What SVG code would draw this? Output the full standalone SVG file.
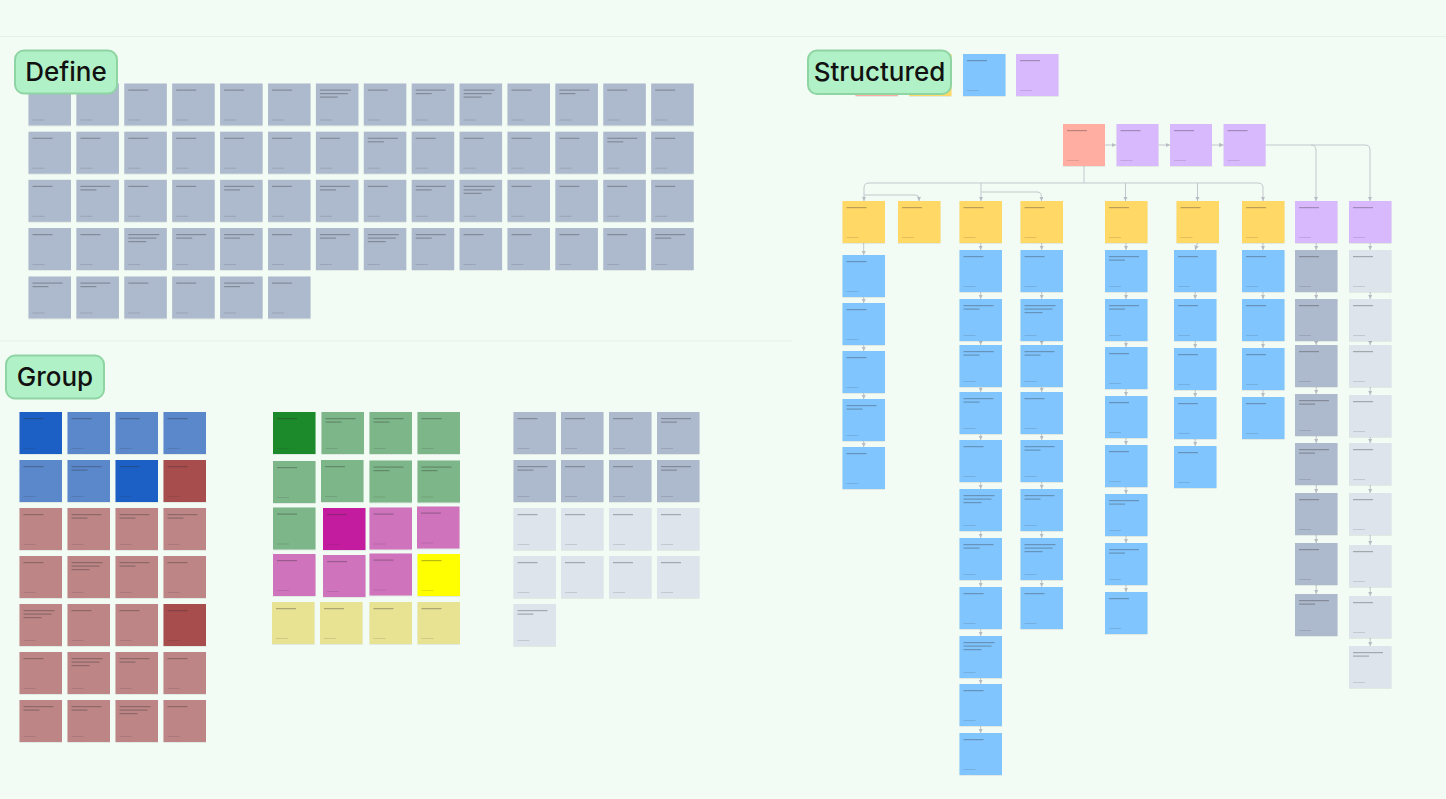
<svg xmlns="http://www.w3.org/2000/svg" xmlns:xlink="http://www.w3.org/1999/xlink" width="1446" height="799" viewBox="0 0 1446 799">
<style>
.n{filter:url(#sh)}
.gb{fill:#adb9cd}.lt{fill:#dde4ec}.bl{fill:#80c5fe}.ye{fill:#ffd866}.pu{fill:#d9b9fe}.sa{fill:#ffaea1}
.db{fill:#1f5fc5}.mb{fill:#5a88cb}.dr{fill:#a84d4d}.lr{fill:#bd8585}.dg{fill:#1a8a2c}.mg{fill:#7db688}
.mag{fill:#c41f9f}.pk{fill:#cf73bd}.yy{fill:#ffff00}.py{fill:#e8e293}
.lab{fill:#b1f1c7;stroke:#8fd4a3;stroke-width:2}
.lt2{font-family:Inter,"Liberation Sans",sans-serif;font-size:26px;font-weight:500;fill:#111;text-anchor:middle}
.c path{fill:none;stroke:#c3c7cc;stroke-width:1;marker-end:url(#ar)}
.bar{fill:#2a2a2a;opacity:.32}.ft{fill:#2a2a2a;opacity:.14}
</style>
<defs>
<filter id="sh" x="-10%" y="-10%" width="130%" height="130%"><feDropShadow dx="0" dy="0.6" stdDeviation="0.7" flood-color="#000" flood-opacity="0.12"/></filter>
<marker id="ar" viewBox="0 0 6 6" refX="6" refY="3" markerWidth="4.5" markerHeight="4.5" orient="auto"><path d="M0 0L6 3L0 6z" fill="#b8bcc2"/></marker>
<g id="t1"><rect class="bar" x="4" y="6" width="20" height="1.2"/><rect class="ft" x="4" y="36" width="12" height="1"/></g>
<g id="t2"><rect class="bar" x="4" y="6" width="30" height="1.2"/><rect class="bar" x="4" y="9.5" width="16" height="1.2"/><rect class="ft" x="4" y="36" width="12" height="1"/></g>
<g id="t3"><rect class="bar" x="4" y="6" width="31" height="1.2"/><rect class="bar" x="4" y="9.5" width="28" height="1.2"/><rect class="bar" x="4" y="13" width="18" height="1.2"/><rect class="ft" x="4" y="36" width="12" height="1"/></g>
</defs>
<rect width="1446" height="799" fill="#f2fcf4"/>
<path d="M0 36.5H1446M0 341H793" stroke="#e4f3e7" stroke-width="1" fill="none"/>

<!-- DEFINE -->
<g id="define-notes">
<g id="d1-1" transform="translate(28.5,83.5)"><rect class="n gb" width="42.5" height="42"/><use href="#t1"/></g>
<g id="d1-2" transform="translate(76.4,83.5)"><rect class="n gb" width="42.5" height="42"/><use href="#t1"/></g>
<g id="d1-3" transform="translate(124.3,83.5)"><rect class="n gb" width="42.5" height="42"/><use href="#t1"/></g>
<g id="d1-4" transform="translate(172.2,83.5)"><rect class="n gb" width="42.5" height="42"/><use href="#t1"/></g>
<g id="d1-5" transform="translate(220.1,83.5)"><rect class="n gb" width="42.5" height="42"/><use href="#t1"/></g>
<g id="d1-6" transform="translate(268,83.5)"><rect class="n gb" width="42.5" height="42"/><use href="#t1"/></g>
<g id="d1-7" transform="translate(315.9,83.5)"><rect class="n gb" width="42.5" height="42"/><use href="#t3"/></g>
<g id="d1-8" transform="translate(363.8,83.5)"><rect class="n gb" width="42.5" height="42"/><use href="#t1"/></g>
<g id="d1-9" transform="translate(411.7,83.5)"><rect class="n gb" width="42.5" height="42"/><use href="#t2"/></g>
<g id="d1-10" transform="translate(459.6,83.5)"><rect class="n gb" width="42.5" height="42"/><use href="#t3"/></g>
<g id="d1-11" transform="translate(507.5,83.5)"><rect class="n gb" width="42.5" height="42"/><use href="#t1"/></g>
<g id="d1-12" transform="translate(555.4,83.5)"><rect class="n gb" width="42.5" height="42"/><use href="#t2"/></g>
<g id="d1-13" transform="translate(603.3,83.5)"><rect class="n gb" width="42.5" height="42"/><use href="#t1"/></g>
<g id="d1-14" transform="translate(651.2,83.5)"><rect class="n gb" width="42.5" height="42"/><use href="#t1"/></g>

<g id="d2-1" transform="translate(28.5,131.7)"><rect class="n gb" width="42.5" height="42"/><use href="#t1"/></g>
<g id="d2-2" transform="translate(76.4,131.7)"><rect class="n gb" width="42.5" height="42"/><use href="#t1"/></g>
<g id="d2-3" transform="translate(124.3,131.7)"><rect class="n gb" width="42.5" height="42"/><use href="#t1"/></g>
<g id="d2-4" transform="translate(172.2,131.7)"><rect class="n gb" width="42.5" height="42"/><use href="#t1"/></g>
<g id="d2-5" transform="translate(220.1,131.7)"><rect class="n gb" width="42.5" height="42"/><use href="#t1"/></g>
<g id="d2-6" transform="translate(268,131.7)"><rect class="n gb" width="42.5" height="42"/><use href="#t1"/></g>
<g id="d2-7" transform="translate(315.9,131.7)"><rect class="n gb" width="42.5" height="42"/><use href="#t1"/></g>
<g id="d2-8" transform="translate(363.8,131.7)"><rect class="n gb" width="42.5" height="42"/><use href="#t2"/></g>
<g id="d2-9" transform="translate(411.7,131.7)"><rect class="n gb" width="42.5" height="42"/><use href="#t1"/></g>
<g id="d2-10" transform="translate(459.6,131.7)"><rect class="n gb" width="42.5" height="42"/><use href="#t1"/></g>
<g id="d2-11" transform="translate(507.5,131.7)"><rect class="n gb" width="42.5" height="42"/><use href="#t1"/></g>
<g id="d2-12" transform="translate(555.4,131.7)"><rect class="n gb" width="42.5" height="42"/><use href="#t1"/></g>
<g id="d2-13" transform="translate(603.3,131.7)"><rect class="n gb" width="42.5" height="42"/><use href="#t2"/></g>
<g id="d2-14" transform="translate(651.2,131.7)"><rect class="n gb" width="42.5" height="42"/><use href="#t1"/></g>

<g id="d3-1" transform="translate(28.5,179.8)"><rect class="n gb" width="42.5" height="42"/><use href="#t1"/></g>
<g id="d3-2" transform="translate(76.4,179.8)"><rect class="n gb" width="42.5" height="42"/><use href="#t2"/></g>
<g id="d3-3" transform="translate(124.3,179.8)"><rect class="n gb" width="42.5" height="42"/><use href="#t1"/></g>
<g id="d3-4" transform="translate(172.2,179.8)"><rect class="n gb" width="42.5" height="42"/><use href="#t1"/></g>
<g id="d3-5" transform="translate(220.1,179.8)"><rect class="n gb" width="42.5" height="42"/><use href="#t2"/></g>
<g id="d3-6" transform="translate(268,179.8)"><rect class="n gb" width="42.5" height="42"/><use href="#t1"/></g>
<g id="d3-7" transform="translate(315.9,179.8)"><rect class="n gb" width="42.5" height="42"/><use href="#t2"/></g>
<g id="d3-8" transform="translate(363.8,179.8)"><rect class="n gb" width="42.5" height="42"/><use href="#t1"/></g>
<g id="d3-9" transform="translate(411.7,179.8)"><rect class="n gb" width="42.5" height="42"/><use href="#t2"/></g>
<g id="d3-10" transform="translate(459.6,179.8)"><rect class="n gb" width="42.5" height="42"/><use href="#t3"/></g>
<g id="d3-11" transform="translate(507.5,179.8)"><rect class="n gb" width="42.5" height="42"/><use href="#t1"/></g>
<g id="d3-12" transform="translate(555.4,179.8)"><rect class="n gb" width="42.5" height="42"/><use href="#t1"/></g>
<g id="d3-13" transform="translate(603.3,179.8)"><rect class="n gb" width="42.5" height="42"/><use href="#t1"/></g>
<g id="d3-14" transform="translate(651.2,179.8)"><rect class="n gb" width="42.5" height="42"/><use href="#t1"/></g>

<g id="d4-1" transform="translate(28.5,228)"><rect class="n gb" width="42.5" height="42"/><use href="#t1"/></g>
<g id="d4-2" transform="translate(76.4,228)"><rect class="n gb" width="42.5" height="42"/><use href="#t1"/></g>
<g id="d4-3" transform="translate(124.3,228)"><rect class="n gb" width="42.5" height="42"/><use href="#t3"/></g>
<g id="d4-4" transform="translate(172.2,228)"><rect class="n gb" width="42.5" height="42"/><use href="#t2"/></g>
<g id="d4-5" transform="translate(220.1,228)"><rect class="n gb" width="42.5" height="42"/><use href="#t2"/></g>
<g id="d4-6" transform="translate(268,228)"><rect class="n gb" width="42.5" height="42"/><use href="#t1"/></g>
<g id="d4-7" transform="translate(315.9,228)"><rect class="n gb" width="42.5" height="42"/><use href="#t2"/></g>
<g id="d4-8" transform="translate(363.8,228)"><rect class="n gb" width="42.5" height="42"/><use href="#t3"/></g>
<g id="d4-9" transform="translate(411.7,228)"><rect class="n gb" width="42.5" height="42"/><use href="#t2"/></g>
<g id="d4-10" transform="translate(459.6,228)"><rect class="n gb" width="42.5" height="42"/><use href="#t1"/></g>
<g id="d4-11" transform="translate(507.5,228)"><rect class="n gb" width="42.5" height="42"/><use href="#t1"/></g>
<g id="d4-12" transform="translate(555.4,228)"><rect class="n gb" width="42.5" height="42"/><use href="#t1"/></g>
<g id="d4-13" transform="translate(603.3,228)"><rect class="n gb" width="42.5" height="42"/><use href="#t1"/></g>
<g id="d4-14" transform="translate(651.2,228)"><rect class="n gb" width="42.5" height="42"/><use href="#t2"/></g>

<g id="d5-1" transform="translate(28.5,276.5)"><rect class="n gb" width="42.5" height="42"/><use href="#t2"/></g>
<g id="d5-2" transform="translate(76.4,276.5)"><rect class="n gb" width="42.5" height="42"/><use href="#t2"/></g>
<g id="d5-3" transform="translate(124.3,276.5)"><rect class="n gb" width="42.5" height="42"/><use href="#t1"/></g>
<g id="d5-4" transform="translate(172.2,276.5)"><rect class="n gb" width="42.5" height="42"/><use href="#t1"/></g>
<g id="d5-5" transform="translate(220.1,276.5)"><rect class="n gb" width="42.5" height="42"/><use href="#t2"/></g>
<g id="d5-6" transform="translate(268,276.5)"><rect class="n gb" width="42.5" height="42"/><use href="#t1"/></g>
</g>
<g id="label-define"><rect class="lab" x="15" y="50.5" width="102" height="43" rx="9"/><text class="lt2" x="66" y="81">Define</text></g>

<!-- GROUP -->
<g id="group-left">
<g id="gl1-1" transform="translate(19.5,412)"><rect class="n db" width="42.5" height="42"/><use href="#t1"/></g>
<g id="gl1-2" transform="translate(67.5,412)"><rect class="n mb" width="42.5" height="42"/><use href="#t1"/></g>
<g id="gl1-3" transform="translate(115.5,412)"><rect class="n mb" width="42.5" height="42"/><use href="#t1"/></g>
<g id="gl1-4" transform="translate(163.5,412)"><rect class="n mb" width="42.5" height="42"/><use href="#t1"/></g>
<g id="gl2-1" transform="translate(19.5,460)"><rect class="n mb" width="42.5" height="42"/><use href="#t1"/></g>
<g id="gl2-2" transform="translate(67.5,460)"><rect class="n mb" width="42.5" height="42"/><use href="#t2"/></g>
<g id="gl2-3" transform="translate(115.5,460)"><rect class="n db" width="42.5" height="42"/><use href="#t1"/></g>
<g id="gl2-4" transform="translate(163.5,460)"><rect class="n dr" width="42.5" height="42"/><use href="#t1"/></g>
<g id="gl3-1" transform="translate(19.5,508)"><rect class="n lr" width="42.5" height="42"/><use href="#t1"/></g>
<g id="gl3-2" transform="translate(67.5,508)"><rect class="n lr" width="42.5" height="42"/><use href="#t2"/></g>
<g id="gl3-3" transform="translate(115.5,508)"><rect class="n lr" width="42.5" height="42"/><use href="#t2"/></g>
<g id="gl3-4" transform="translate(163.5,508)"><rect class="n lr" width="42.5" height="42"/><use href="#t2"/></g>
<g id="gl4-1" transform="translate(19.5,556)"><rect class="n lr" width="42.5" height="42"/><use href="#t1"/></g>
<g id="gl4-2" transform="translate(67.5,556)"><rect class="n lr" width="42.5" height="42"/><use href="#t3"/></g>
<g id="gl4-3" transform="translate(115.5,556)"><rect class="n lr" width="42.5" height="42"/><use href="#t2"/></g>
<g id="gl4-4" transform="translate(163.5,556)"><rect class="n lr" width="42.5" height="42"/><use href="#t1"/></g>
<g id="gl5-1" transform="translate(19.5,604)"><rect class="n lr" width="42.5" height="42"/><use href="#t3"/></g>
<g id="gl5-2" transform="translate(67.5,604)"><rect class="n lr" width="42.5" height="42"/><use href="#t1"/></g>
<g id="gl5-3" transform="translate(115.5,604)"><rect class="n lr" width="42.5" height="42"/><use href="#t1"/></g>
<g id="gl5-4" transform="translate(163.5,604)"><rect class="n dr" width="42.5" height="42"/><use href="#t1"/></g>
<g id="gl6-1" transform="translate(19.5,652)"><rect class="n lr" width="42.5" height="42"/><use href="#t1"/></g>
<g id="gl6-2" transform="translate(67.5,652)"><rect class="n lr" width="42.5" height="42"/><use href="#t3"/></g>
<g id="gl6-3" transform="translate(115.5,652)"><rect class="n lr" width="42.5" height="42"/><use href="#t2"/></g>
<g id="gl6-4" transform="translate(163.5,652)"><rect class="n lr" width="42.5" height="42"/><use href="#t1"/></g>
<g id="gl7-1" transform="translate(19.5,700)"><rect class="n lr" width="42.5" height="42"/><use href="#t2"/></g>
<g id="gl7-2" transform="translate(67.5,700)"><rect class="n lr" width="42.5" height="42"/><use href="#t2"/></g>
<g id="gl7-3" transform="translate(115.5,700)"><rect class="n lr" width="42.5" height="42"/><use href="#t3"/></g>
<g id="gl7-4" transform="translate(163.5,700)"><rect class="n lr" width="42.5" height="42"/><use href="#t1"/></g>
</g>

<g id="group-middle">
<g id="gm1-1" transform="translate(273,412)"><rect class="n dg" width="42.5" height="42"/><use href="#t1"/></g>
<g id="gm1-2" transform="translate(321.5,412)"><rect class="n mg" width="42.5" height="42"/><use href="#t2"/></g>
<g id="gm1-3" transform="translate(369.5,412)"><rect class="n mg" width="42.5" height="42"/><use href="#t2"/></g>
<g id="gm1-4" transform="translate(417.5,412)"><rect class="n mg" width="42.5" height="42"/><use href="#t1"/></g>
<g id="gm2-1" transform="translate(273,461)"><rect class="n mg" width="42.5" height="42"/><use href="#t1"/></g>
<g id="gm2-2" transform="translate(321,460)"><rect class="n mg" width="42.5" height="42"/><use href="#t1"/></g>
<g id="gm2-3" transform="translate(369.5,460.5)"><rect class="n mg" width="42.5" height="42"/><use href="#t2"/></g>
<g id="gm2-4" transform="translate(417.5,460.5)"><rect class="n mg" width="42.5" height="42"/><use href="#t2"/></g>
<g id="gm3-1" transform="translate(273,507.5)"><rect class="n mg" width="42.5" height="42"/><use href="#t1"/></g>
<g id="gm3-2" transform="translate(323,508)"><rect class="n mag" width="42.5" height="42"/><use href="#t1"/></g>
<g id="gm3-3" transform="translate(369.5,507.5)"><rect class="n pk" width="42.5" height="42"/><use href="#t1"/></g>
<g id="gm3-4" transform="translate(417,506.5)"><rect class="n pk" width="42.5" height="42"/><use href="#t1"/></g>
<g id="gm4-1" transform="translate(273,554)"><rect class="n pk" width="42.5" height="42"/><use href="#t1"/></g>
<g id="gm4-2" transform="translate(323,555)"><rect class="n pk" width="42.5" height="42"/><use href="#t1"/></g>
<g id="gm4-3" transform="translate(369.5,553.5)"><rect class="n pk" width="42.5" height="42"/><use href="#t1"/></g>
<g id="gm4-4" transform="translate(417.5,554)"><rect class="n yy" width="42.5" height="42"/><use href="#t1"/></g>
<g id="gm5-1" transform="translate(272,602)"><rect class="n py" width="42.5" height="42"/><use href="#t1"/></g>
<g id="gm5-2" transform="translate(320,602)"><rect class="n py" width="42.5" height="42"/><use href="#t1"/></g>
<g id="gm5-3" transform="translate(369.5,602)"><rect class="n py" width="42.5" height="42"/><use href="#t1"/></g>
<g id="gm5-4" transform="translate(417.5,602)"><rect class="n py" width="42.5" height="42"/><use href="#t1"/></g>
</g>

<g id="group-right">
<g id="gr1-1" transform="translate(513.5,412)"><rect class="n gb" width="42.5" height="42"/><use href="#t1"/></g>
<g id="gr1-2" transform="translate(561,412)"><rect class="n gb" width="42.5" height="42"/><use href="#t1"/></g>
<g id="gr1-3" transform="translate(609,412)"><rect class="n gb" width="42.5" height="42"/><use href="#t1"/></g>
<g id="gr1-4" transform="translate(657,412)"><rect class="n gb" width="42.5" height="42"/><use href="#t2"/></g>
<g id="gr2-1" transform="translate(513.5,460)"><rect class="n gb" width="42.5" height="42"/><use href="#t2"/></g>
<g id="gr2-2" transform="translate(561,460)"><rect class="n gb" width="42.5" height="42"/><use href="#t1"/></g>
<g id="gr2-3" transform="translate(609,460)"><rect class="n gb" width="42.5" height="42"/><use href="#t1"/></g>
<g id="gr2-4" transform="translate(657,460)"><rect class="n gb" width="42.5" height="42"/><use href="#t2"/></g>
<g id="gr3-1" transform="translate(513.5,508)"><rect class="n lt" width="42.5" height="42"/><use href="#t1"/></g>
<g id="gr3-2" transform="translate(561,508)"><rect class="n lt" width="42.5" height="42"/><use href="#t1"/></g>
<g id="gr3-3" transform="translate(609,508)"><rect class="n lt" width="42.5" height="42"/><use href="#t1"/></g>
<g id="gr3-4" transform="translate(657,508)"><rect class="n lt" width="42.5" height="42"/><use href="#t1"/></g>
<g id="gr4-1" transform="translate(513.5,556)"><rect class="n lt" width="42.5" height="42"/><use href="#t1"/></g>
<g id="gr4-2" transform="translate(561,556)"><rect class="n lt" width="42.5" height="42"/><use href="#t1"/></g>
<g id="gr4-3" transform="translate(609,556)"><rect class="n lt" width="42.5" height="42"/><use href="#t1"/></g>
<g id="gr4-4" transform="translate(657,556)"><rect class="n lt" width="42.5" height="42"/><use href="#t1"/></g>
<g id="gr5-1" transform="translate(513.5,604)"><rect class="n lt" width="42.5" height="42"/><use href="#t2"/></g>
</g>
<g id="label-group"><rect class="lab" x="6" y="355.5" width="98" height="43" rx="9"/><text class="lt2" x="55" y="386">Group</text></g>

<!-- STRUCTURED -->
<g id="legend">
<g id="lg-salmon" transform="translate(855.5,54)"><rect class="n sa" width="42.5" height="42"/></g>
<g id="lg-yellow" transform="translate(909,54)"><rect class="n ye" width="42.5" height="42"/></g>
<g id="lg-blue" transform="translate(963,54)"><rect class="n bl" width="42.5" height="42"/><use href="#t1"/></g>
<g id="lg-purple" transform="translate(1016,54)"><rect class="n pu" width="42.5" height="42"/><use href="#t1"/></g>
</g>
<g id="label-structured"><rect class="lab" x="808" y="50.5" width="143" height="43.5" rx="9"/><text class="lt2" x="879.5" y="81">Structured</text></g>

<g id="connectors" class="c">
<path d="M1105 145H1116"/><path d="M1158.5 145H1170"/><path d="M1212 145H1223.6"/>
<path d="M1265.6 145H1365q5 0 5 5V201"/><path d="M1311 145q5 0 5 5V201"/>
<path d="M1084 166V183" style="marker-end:none"/>
<path d="M869 183H1258q5 0 5 5V201"/><path d="M869 183q-5 0 -5 5V201"/>
<path d="M981 183V201"/><path d="M1125.5 183V201"/><path d="M1197.5 183V201"/>
<path d="M864 195H915q4 0 4 4V201"/><path d="M981 192H1037q4.5 0 4.5 4.5V201"/>
<path d="M863.7 243V255"/><path d="M863.7 297V303"/><path d="M863.7 345V351"/><path d="M863.7 393V399"/><path d="M863.7 441V447"/>
<path d="M980.7 243V250"/><path d="M980.7 292V299"/><path d="M980.7 341V345"/><path d="M980.7 387V392"/><path d="M980.7 434V440"/><path d="M980.7 482V489"/><path d="M980.7 531V538"/><path d="M980.7 580V587"/><path d="M980.7 629V636"/><path d="M980.7 678V684"/><path d="M980.7 726V733"/>
<path d="M1041.7 243V250"/><path d="M1041.7 292V299"/><path d="M1041.7 341V345"/><path d="M1041.7 387V392"/><path d="M1041.7 434V440"/><path d="M1041.7 482V489"/><path d="M1041.7 531V538"/><path d="M1041.7 580V587"/>
<path d="M1126 243V250"/><path d="M1126 292V299"/><path d="M1126 341V347"/><path d="M1126 389V396"/><path d="M1126 438V445"/><path d="M1126 487V494"/><path d="M1126 536V543"/><path d="M1126 585V592"/>
<path d="M1197.5 243L1195.2 250"/><path d="M1195.2 292V299"/><path d="M1195.2 341V348"/><path d="M1195.2 390V397"/><path d="M1195.2 439V446"/>
<path d="M1263 243V250"/><path d="M1263 292V299"/><path d="M1263 341V348"/><path d="M1263 390V397"/>
<path d="M1316.2 243V250"/><path d="M1316.2 292V299"/><path d="M1316.2 341V345"/><path d="M1316.2 387V394"/><path d="M1316.2 436V443"/><path d="M1316.2 485V493"/><path d="M1316.2 535V543"/><path d="M1316.2 585V594"/>
<path d="M1370.2 243V250"/><path d="M1370.2 292V299"/><path d="M1370.2 341V345"/><path d="M1370.2 387V395"/><path d="M1370.2 437V443"/><path d="M1370.2 485V493"/><path d="M1370.2 535V545"/><path d="M1370.2 587V596"/><path d="M1370.2 638V646"/>
</g>

<g id="chain">
<g id="s-root" transform="translate(1063,124)"><rect class="n sa" width="42" height="42"/><use href="#t1"/></g>
<g id="s-p1" transform="translate(1116.5,124)"><rect class="n pu" width="42" height="42"/><use href="#t1"/></g>
<g id="s-p2" transform="translate(1170,124)"><rect class="n pu" width="42" height="42"/><use href="#t1"/></g>
<g id="s-p3" transform="translate(1223.6,124)"><rect class="n pu" width="42" height="42"/><use href="#t1"/></g>
</g>

<g id="heads">
<g id="h1" transform="translate(842.5,201)"><rect class="n ye" width="42.5" height="42"/><use href="#t1"/></g>
<g id="h2" transform="translate(898,201)"><rect class="n ye" width="42.5" height="42"/><use href="#t1"/></g>
<g id="h3" transform="translate(959.5,201)"><rect class="n ye" width="42.5" height="42"/><use href="#t1"/></g>
<g id="h4" transform="translate(1020.5,201)"><rect class="n ye" width="42.5" height="42"/><use href="#t1"/></g>
<g id="h5" transform="translate(1105,201)"><rect class="n ye" width="42.5" height="42"/><use href="#t1"/></g>
<g id="h6" transform="translate(1176.5,201)"><rect class="n ye" width="42.5" height="42"/><use href="#t1"/></g>
<g id="h7" transform="translate(1242,201)"><rect class="n ye" width="42.5" height="42"/><use href="#t1"/></g>
<g id="h8" transform="translate(1295,201)"><rect class="n pu" width="42.5" height="42"/><use href="#t1"/></g>
<g id="h9" transform="translate(1349,201)"><rect class="n pu" width="42.5" height="42"/><use href="#t1"/></g>
</g>

<g id="col1">
<g id="c1-1" transform="translate(842.5,255)"><rect class="n bl" width="42.5" height="42"/><use href="#t1"/></g>
<g id="c1-2" transform="translate(842.5,303)"><rect class="n bl" width="42.5" height="42"/><use href="#t1"/></g>
<g id="c1-3" transform="translate(842.5,351)"><rect class="n bl" width="42.5" height="42"/><use href="#t1"/></g>
<g id="c1-4" transform="translate(842.5,399)"><rect class="n bl" width="42.5" height="42"/><use href="#t2"/></g>
<g id="c1-5" transform="translate(842.5,447)"><rect class="n bl" width="42.5" height="42"/><use href="#t1"/></g>
</g>
<g id="col3">
<g id="c3-1" transform="translate(959.5,250)"><rect class="n bl" width="42.5" height="42"/><use href="#t1"/></g>
<g id="c3-2" transform="translate(959.5,299)"><rect class="n bl" width="42.5" height="42"/><use href="#t2"/></g>
<g id="c3-3" transform="translate(959.5,345)"><rect class="n bl" width="42.5" height="42"/><use href="#t2"/></g>
<g id="c3-4" transform="translate(959.5,392)"><rect class="n bl" width="42.5" height="42"/><use href="#t2"/></g>
<g id="c3-5" transform="translate(959.5,440)"><rect class="n bl" width="42.5" height="42"/><use href="#t1"/></g>
<g id="c3-6" transform="translate(959.5,489)"><rect class="n bl" width="42.5" height="42"/><use href="#t3"/></g>
<g id="c3-7" transform="translate(959.5,538)"><rect class="n bl" width="42.5" height="42"/><use href="#t2"/></g>
<g id="c3-8" transform="translate(959.5,587)"><rect class="n bl" width="42.5" height="42"/><use href="#t1"/></g>
<g id="c3-9" transform="translate(959.5,636)"><rect class="n bl" width="42.5" height="42"/><use href="#t3"/></g>
<g id="c3-10" transform="translate(959.5,684)"><rect class="n bl" width="42.5" height="42"/><use href="#t1"/></g>
<g id="c3-11" transform="translate(959.5,733)"><rect class="n bl" width="42.5" height="42"/><use href="#t1"/></g>
</g>
<g id="col4">
<g id="c4-1" transform="translate(1020.5,250)"><rect class="n bl" width="42.5" height="42"/><use href="#t1"/></g>
<g id="c4-2" transform="translate(1020.5,299)"><rect class="n bl" width="42.5" height="42"/><use href="#t3"/></g>
<g id="c4-3" transform="translate(1020.5,345)"><rect class="n bl" width="42.5" height="42"/><use href="#t2"/></g>
<g id="c4-4" transform="translate(1020.5,392)"><rect class="n bl" width="42.5" height="42"/><use href="#t1"/></g>
<g id="c4-5" transform="translate(1020.5,440)"><rect class="n bl" width="42.5" height="42"/><use href="#t2"/></g>
<g id="c4-6" transform="translate(1020.5,489)"><rect class="n bl" width="42.5" height="42"/><use href="#t2"/></g>
<g id="c4-7" transform="translate(1020.5,538)"><rect class="n bl" width="42.5" height="42"/><use href="#t3"/></g>
<g id="c4-8" transform="translate(1020.5,587)"><rect class="n bl" width="42.5" height="42"/><use href="#t1"/></g>
</g>
<g id="col5">
<g id="c5-1" transform="translate(1105,250)"><rect class="n bl" width="42.5" height="42"/><use href="#t2"/></g>
<g id="c5-2" transform="translate(1105,299)"><rect class="n bl" width="42.5" height="42"/><use href="#t2"/></g>
<g id="c5-3" transform="translate(1105,347)"><rect class="n bl" width="42.5" height="42"/><use href="#t1"/></g>
<g id="c5-4" transform="translate(1105,396)"><rect class="n bl" width="42.5" height="42"/><use href="#t1"/></g>
<g id="c5-5" transform="translate(1105,445)"><rect class="n bl" width="42.5" height="42"/><use href="#t1"/></g>
<g id="c5-6" transform="translate(1105,494)"><rect class="n bl" width="42.5" height="42"/><use href="#t2"/></g>
<g id="c5-7" transform="translate(1105,543)"><rect class="n bl" width="42.5" height="42"/><use href="#t2"/></g>
<g id="c5-8" transform="translate(1105,592)"><rect class="n bl" width="42.5" height="42"/><use href="#t1"/></g>
</g>
<g id="col6">
<g id="c6-1" transform="translate(1174,250)"><rect class="n bl" width="42.5" height="42"/><use href="#t1"/></g>
<g id="c6-2" transform="translate(1174,299)"><rect class="n bl" width="42.5" height="42"/><use href="#t1"/></g>
<g id="c6-3" transform="translate(1174,348)"><rect class="n bl" width="42.5" height="42"/><use href="#t1"/></g>
<g id="c6-4" transform="translate(1174,397)"><rect class="n bl" width="42.5" height="42"/><use href="#t1"/></g>
<g id="c6-5" transform="translate(1174,446)"><rect class="n bl" width="42.5" height="42"/><use href="#t1"/></g>
</g>
<g id="col7">
<g id="c7-1" transform="translate(1242,250)"><rect class="n bl" width="42.5" height="42"/><use href="#t1"/></g>
<g id="c7-2" transform="translate(1242,299)"><rect class="n bl" width="42.5" height="42"/><use href="#t1"/></g>
<g id="c7-3" transform="translate(1242,348)"><rect class="n bl" width="42.5" height="42"/><use href="#t1"/></g>
<g id="c7-4" transform="translate(1242,397)"><rect class="n bl" width="42.5" height="42"/><use href="#t1"/></g>
</g>
<g id="col8">
<g id="c8-1" transform="translate(1295,250)"><rect class="n gb" width="42.5" height="42"/><use href="#t1"/></g>
<g id="c8-2" transform="translate(1295,299)"><rect class="n gb" width="42.5" height="42"/><use href="#t1"/></g>
<g id="c8-3" transform="translate(1295,345)"><rect class="n gb" width="42.5" height="42"/><use href="#t1"/></g>
<g id="c8-4" transform="translate(1295,394)"><rect class="n gb" width="42.5" height="42"/><use href="#t2"/></g>
<g id="c8-5" transform="translate(1295,443)"><rect class="n gb" width="42.5" height="42"/><use href="#t2"/></g>
<g id="c8-6" transform="translate(1295,493)"><rect class="n gb" width="42.5" height="42"/><use href="#t1"/></g>
<g id="c8-7" transform="translate(1295,543)"><rect class="n gb" width="42.5" height="42"/><use href="#t1"/></g>
<g id="c8-8" transform="translate(1295,594)"><rect class="n gb" width="42.5" height="42"/><use href="#t2"/></g>
</g>
<g id="col9">
<g id="c9-1" transform="translate(1349,250)"><rect class="n lt" width="42.5" height="42"/><use href="#t1"/></g>
<g id="c9-2" transform="translate(1349,299)"><rect class="n lt" width="42.5" height="42"/><use href="#t1"/></g>
<g id="c9-3" transform="translate(1349,345)"><rect class="n lt" width="42.5" height="42"/><use href="#t1"/></g>
<g id="c9-4" transform="translate(1349,395)"><rect class="n lt" width="42.5" height="42"/><use href="#t1"/></g>
<g id="c9-5" transform="translate(1349,443)"><rect class="n lt" width="42.5" height="42"/><use href="#t1"/></g>
<g id="c9-6" transform="translate(1349,493)"><rect class="n lt" width="42.5" height="42"/><use href="#t1"/></g>
<g id="c9-7" transform="translate(1349,545)"><rect class="n lt" width="42.5" height="42"/><use href="#t1"/></g>
<g id="c9-8" transform="translate(1349,596)"><rect class="n lt" width="42.5" height="42"/><use href="#t1"/></g>
<g id="c9-9" transform="translate(1349,646)"><rect class="n lt" width="42.5" height="42"/><use href="#t2"/></g>
</g>
</svg>
